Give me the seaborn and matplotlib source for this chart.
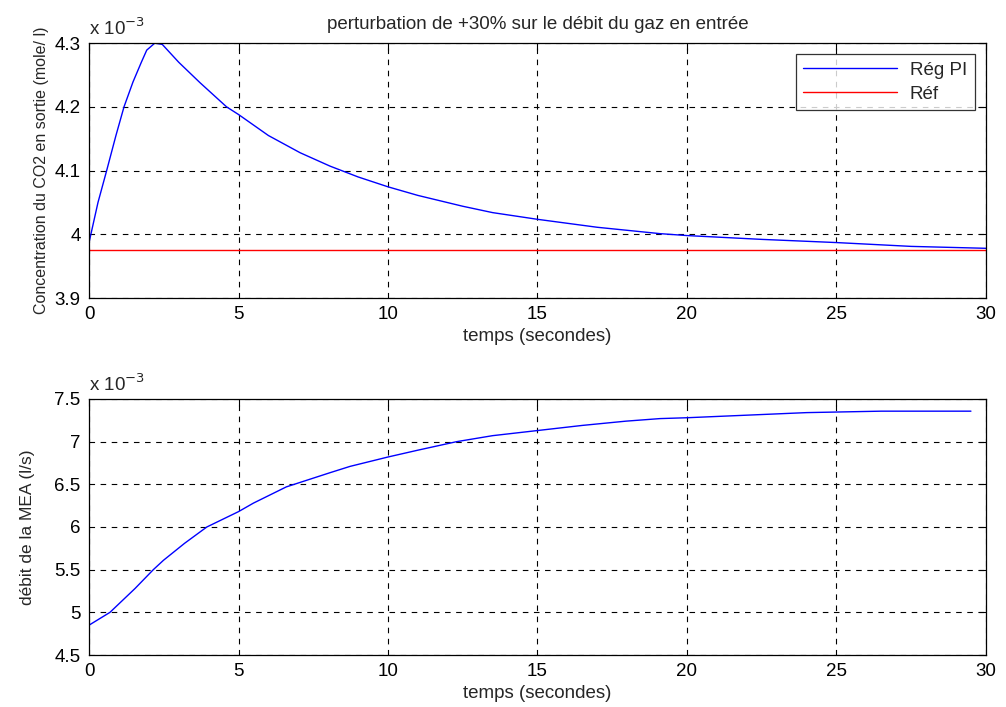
import numpy as np
import pandas as pd
import seaborn as sns
import matplotlib.pyplot as plt

# Values (y values in units of 10^-3)
t_co2 = [0, 0.3, 0.59, 0.9, 1.17, 1.47, 1.75, 1.93, 2.2, 2.45, 3.0, 3.71, 4.6, 5.0,
         6.0, 7.06, 8.06, 9.0, 10, 11, 12.5, 13.5, 15, 17, 19.1, 20, 22.5, 25, 27.5, 30]
co2_reg = [3.987, 4.05, 4.10, 4.155, 4.20, 4.239, 4.27, 4.289, 4.30, 4.298, 4.27, 4.238,
           4.20, 4.188, 4.155, 4.128, 4.107, 4.09, 4.0745, 4.061, 4.044, 4.034, 4.0235,
           4.011, 4.001, 3.998, 3.992, 3.987, 3.981, 3.978]
t_ref = [0, 30]
co2_ref = [3.975, 3.975]

t_mea = [0, 0.7, 1.54, 2.15, 2.49, 3.2, 3.94, 5.0, 5.5, 6.6, 8.06, 8.73, 10, 11, 12.3,
         13.5, 15, 16.5, 17.96, 19.1, 20, 22, 24, 26.5, 29.5]
mea_flow = [4.85, 5.0, 5.28, 5.5, 5.61, 5.81, 6.0, 6.18, 6.28, 6.47, 6.636, 6.71, 6.82,
            6.90, 7.0, 7.07, 7.13, 7.19, 7.24, 7.27, 7.28, 7.31, 7.34, 7.357, 7.357]

xticks = [0, 5, 10, 15, 20, 25, 30]

sns.set_theme(style="white")
plt.rcParams['font.family'] = ['Liberation Sans', 'DejaVu Sans']

fs = 13.5

fig = plt.figure(figsize=(10.06, 7.07), dpi=100)
ax1 = fig.add_axes([0.0885, 0.5785, 0.8915, 0.3605])
ax2 = fig.add_axes([0.0885, 0.0735, 0.8915, 0.3622])

df_reg = pd.DataFrame({'t': t_co2, 'y': co2_reg})
df_ref = pd.DataFrame({'t': t_ref, 'y': co2_ref})
df_mea = pd.DataFrame({'t': t_mea, 'y': mea_flow})

sns.lineplot(data=df_reg, x='t', y='y', ax=ax1, color='#0000ff', lw=1, label='Rég PI')
sns.lineplot(data=df_ref, x='t', y='y', ax=ax1, color='#ff0000', lw=1, label='Réf')
sns.lineplot(data=df_mea, x='t', y='y', ax=ax2, color='#0000ff', lw=1)

for ax in (ax1, ax2):
    ax.set_xlim(0, 30)
    ax.set_xticks(xticks)
    ax.grid(True, color='black', linestyle=(0, (5, 5)), lw=0.8)
    ax.tick_params(direction='in', top=True, right=True, length=5, width=0.8,
                   labelsize=fs, colors='black', pad=6)
    for s in ax.spines.values():
        s.set_color('black')
        s.set_linewidth(0.9)
    ax.set_xlabel('temps (secondes)', fontsize=fs, labelpad=3)

ax1.set_ylim(3.9, 4.3)
ax1.set_yticks([3.9, 4.0, 4.1, 4.2, 4.3])
ax1.set_yticklabels(['3.9', '4', '4.1', '4.2', '4.3'])
ax1.set_ylabel('Concentration du CO2 en sortie (mole/ l)', fontsize=11.5, labelpad=4)
ax1.set_title('perturbation de +30% sur le débit du gaz en entrée', fontsize=fs, pad=10)
ax1.text(0, 1.015, r'x 10$^{-3}$', transform=ax1.transAxes, fontsize=fs, va='bottom')

ax2.set_ylim(4.5, 7.5)
ax2.set_yticks([4.5, 5, 5.5, 6, 6.5, 7, 7.5])
ax2.set_yticklabels(['4.5', '5', '5.5', '6', '6.5', '7', '7.5'])
ax2.set_ylabel('débit de la MEA (l/s)', fontsize=12.5, labelpad=14)
ax2.text(0, 1.015, r'x 10$^{-3}$', transform=ax2.transAxes, fontsize=fs, va='bottom')

leg = ax1.legend(loc='upper right', fontsize=fs, frameon=True, fancybox=False,
                 borderaxespad=0.6, handlelength=5, handletextpad=0.7,
                 labelspacing=0.35, borderpad=0.4, edgecolor='black')
leg.get_frame().set_linewidth(0.9)

fig.savefig('out.png', dpi=100)
